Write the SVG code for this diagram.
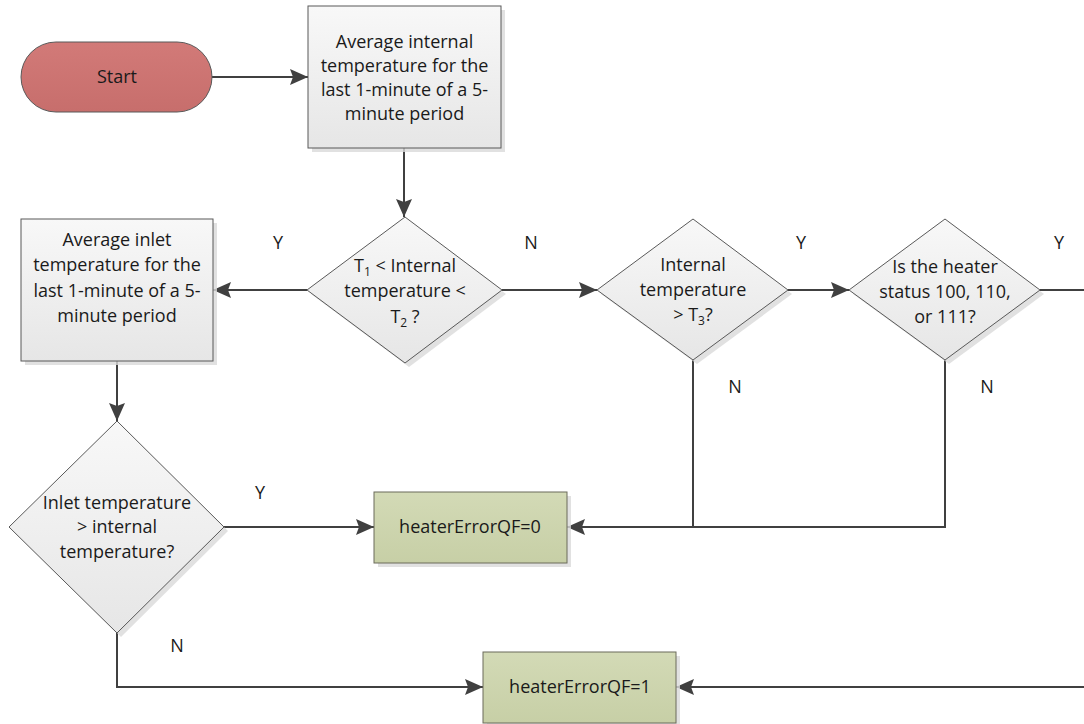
<svg xmlns="http://www.w3.org/2000/svg" width="1084" height="724" viewBox="0 0 1084 724">
<style>
text{font-family:"Open Sans","Noto Sans","Liberation Sans",sans-serif;font-size:18px;fill:#1a1a1a;text-anchor:middle}
.box{fill:url(#gGray);stroke:#595959;stroke-width:1}
.grn{fill:url(#gGreen);stroke:#6b6b5a;stroke-width:1}
.shd{fill:#d9d9d9;opacity:0.8}
.ln{fill:none;stroke:#404040;stroke-width:2}
.arr{fill:none;stroke:#404040;stroke-width:2;marker-end:url(#ah)}
.sub{font-size:12px}
</style>
<defs>
<linearGradient id="gGray" x1="0" y1="0" x2="0" y2="1"><stop offset="0" stop-color="#f8f8f8"/><stop offset="1" stop-color="#e6e6e6"/></linearGradient>
<linearGradient id="gGreen" x1="0" y1="0" x2="0" y2="1"><stop offset="0" stop-color="#d3dab6"/><stop offset="1" stop-color="#c7cfa6"/></linearGradient>
<linearGradient id="gRed" x1="0" y1="0" x2="0" y2="1"><stop offset="0" stop-color="#d27a78"/><stop offset="1" stop-color="#c76e6c"/></linearGradient>
<marker id="ah" viewBox="0 0 18 16" refX="18" refY="8" markerWidth="18" markerHeight="16" markerUnits="userSpaceOnUse" orient="auto"><path d="M0,0 L18,8 L0,16 L3,8 Z" fill="#404040"/></marker>
</defs>

<g id="connectors">
<path class="arr" d="M212,77 H308"/>
<path class="arr" d="M404,148 V217"/>
<path class="arr" d="M307,290 H213"/>
<path class="arr" d="M502,290 H597"/>
<path class="arr" d="M788,290 H849"/>
<path class="ln" d="M1040,290 H1084"/>
<path class="arr" d="M117,361 V421"/>
<path class="arr" d="M224,527 H374"/>
<path class="ln" d="M693,360 V527"/>
<path class="arr" d="M945,360 V527 H567"/>
<path class="arr" d="M117,633 V687 H483"/>
<path class="arr" d="M1084,687 H676"/>
<text x="278" y="249">Y</text>
<text x="531" y="249">N</text>
<text x="801" y="249">Y</text>
<text x="1059" y="249">Y</text>
<text x="735" y="393">N</text>
<text x="987" y="393">N</text>
<text x="260" y="499">Y</text>
<text x="177" y="652">N</text>
</g>

<g id="start">
<rect x="21" y="42" width="191" height="70" rx="35" fill="url(#gRed)" stroke="#595959" stroke-width="1"/>
<text x="117" y="83">Start</text>
</g>

<g id="avgInternal">
<rect class="shd" x="312" y="10" width="193" height="142"/>
<rect class="box" x="308" y="6" width="193" height="142"/>
<text x="404.5" y="48">Average internal</text>
<text x="404.5" y="72">temperature for the</text>
<text x="404.5" y="96">last 1-minute of a 5-</text>
<text x="404.5" y="120">minute period</text>
</g>

<g id="decisionRange">
<polygon class="shd" points="409,221 506,294 409,367 311,294"/>
<polygon class="box" points="405,217 502,290 405,363 307,290"/>
<text x="405" y="272">T<tspan class="sub" dy="4">1</tspan><tspan dy="-4"> &lt; Internal</tspan></text>
<text x="405" y="297">temperature &lt;</text>
<text x="405" y="323">T<tspan class="sub" dy="4">2</tspan><tspan dy="-4"> ?</tspan></text>
</g>

<g id="decisionT3">
<polygon class="shd" points="697,223 792,294 697,364 601,294"/>
<polygon class="box" points="693,219 788,290 693,360 597,290"/>
<text x="693" y="271">Internal</text>
<text x="693" y="296">temperature</text>
<text x="693" y="321">&gt; T<tspan class="sub" dy="4">3</tspan><tspan dy="-4">?</tspan></text>
</g>

<g id="decisionHeater">
<polygon class="shd" points="949,223 1044,294 949,364 853,294"/>
<polygon class="box" points="945,219 1040,290 945,360 849,290"/>
<text x="945" y="273">Is the heater</text>
<text x="945" y="298">status 100, 110,</text>
<text x="945" y="323">or 111?</text>
</g>

<g id="avgInlet">
<rect class="shd" x="25" y="223" width="192" height="142"/>
<rect class="box" x="21" y="219" width="192" height="142"/>
<text x="117" y="246">Average inlet</text>
<text x="117" y="271">temperature for the</text>
<text x="117" y="297">last 1-minute of a 5-</text>
<text x="117" y="322">minute period</text>
</g>

<g id="decisionInlet">
<polygon class="shd" points="121,425 228,531 121,637 13,531"/>
<polygon class="box" points="117,421 224,527 117,633 9,527"/>
<text x="117" y="509">Inlet temperature</text>
<text x="117" y="533">&gt; internal</text>
<text x="117" y="558">temperature?</text>
</g>

<g id="qf0">
<rect class="shd" x="378" y="496" width="193" height="71"/>
<rect class="grn" x="374" y="492" width="193" height="71"/>
<text x="470" y="533">heaterErrorQF=0</text>
</g>

<g id="qf1">
<rect class="shd" x="487" y="656" width="193" height="71"/>
<rect class="grn" x="483" y="652" width="193" height="71"/>
<text x="580" y="693">heaterErrorQF=1</text>
</g>
</svg>
